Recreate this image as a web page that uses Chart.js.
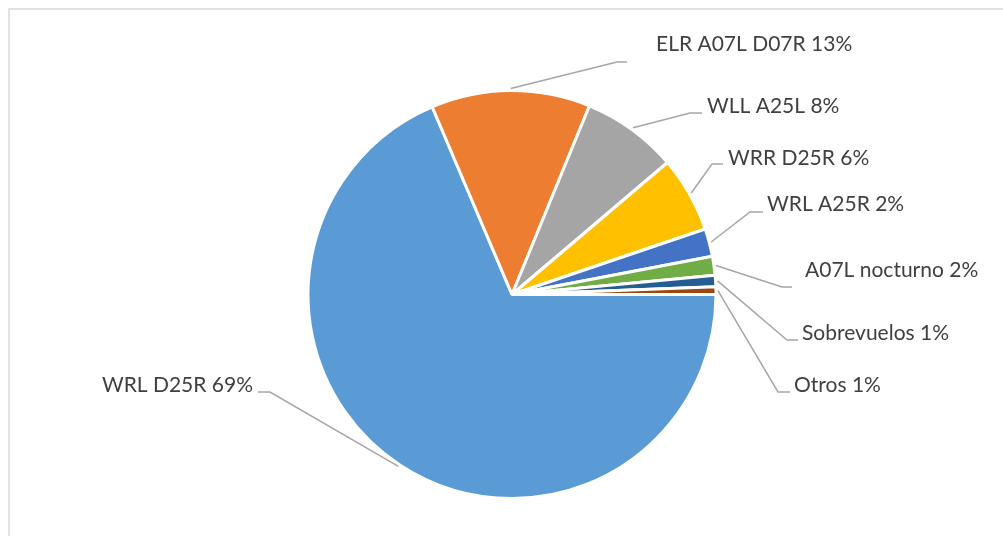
<!DOCTYPE html>
<html>
<head>
<meta charset="utf-8">
<script src="https://cdn.jsdelivr.net/npm/chart.js@4/dist/chart.umd.min.js"></script>
<style>
  html, body { margin: 0; padding: 0; background: #ffffff; }
  #wrap { width: 1003px; height: 536px; }
</style>
</head>
<body>
<div id="wrap"><canvas id="c" width="1003" height="536"></canvas></div>
<script>
// ---- data ----
const categories = ["WRL D25R", "ELR A07L D07R", "WLL A25L", "WRR D25R", "WRL A25R", "A07L nocturno", "Sobrevuelos", "Otros"];
const values = [68.6, 12.6, 7.6, 6.0, 2.2, 1.5, 0.9, 0.6];
const colors = ["#5B9BD5", "#ED7D31", "#A5A5A5", "#FFC000", "#4472C4", "#70AD47", "#255E91", "#9E480E"];

// ---- label layout (annotation placement only) ----
const labelLayout = [
  { tx: 253, ty: 392, align: "right", elbow: [270, 392], end: [258, 392] },
  { tx: 656, ty: 51,  align: "left",  elbow: [617, 62],  end: [627, 62] },
  { tx: 707, ty: 113, align: "left",  elbow: [690, 113], end: [702, 113] },
  { tx: 728, ty: 165, align: "left",  elbow: [712, 164], end: [723, 164] },
  { tx: 767, ty: 211, align: "left",  elbow: [750, 212], end: [763, 212] },
  { tx: 805, ty: 277, align: "left",  elbow: [782, 287], end: [792, 287] },
  { tx: 802, ty: 340, align: "left",  elbow: [787, 340], end: [798, 340] },
  { tx: 794, ty: 392, align: "left",  elbow: [778, 392], end: [790, 392] }
];

const total = values.reduce((a, b) => a + b, 0);

const frame = {
  id: "frame",
  beforeDraw(chart) {
    const ctx = chart.ctx;
    ctx.save();
    ctx.strokeStyle = "#d9d9d9";
    ctx.lineWidth = 1.5;
    ctx.strokeRect(9, 9, 1100, 700);
    ctx.restore();
  }
};

const leaders = {
  id: "leaders",
  afterDatasetsDraw(chart) {
    const ctx = chart.ctx;
    const meta = chart.getDatasetMeta(0);
    ctx.save();
    meta.data.forEach((arc, i) => {
      const p = arc.getProps(["x", "y", "startAngle", "endAngle", "outerRadius"], true);
      const mid = (p.startAngle + p.endAngle) / 2;
      const r = p.outerRadius + 2;
      const sx = p.x + Math.cos(mid) * r;
      const sy = p.y + Math.sin(mid) * r;
      const L = labelLayout[i];
      ctx.strokeStyle = "#a6a6a6";
      ctx.lineWidth = 1.5;
      ctx.beginPath();
      ctx.moveTo(sx, sy);
      ctx.lineTo(L.elbow[0], L.elbow[1]);
      ctx.lineTo(L.end[0], L.end[1]);
      ctx.stroke();
      const pct = Math.round(values[i] / total * 100 + 1e-9);
      ctx.fillStyle = "#404040";
      ctx.font = "21px Lato";
      ctx.textAlign = L.align;
      ctx.textBaseline = "alphabetic";
      ctx.fillText(categories[i] + " " + pct + "%", L.tx, L.ty);
    });
    ctx.restore();
  }
};

new Chart(document.getElementById("c"), {
  type: "pie",
  data: {
    labels: categories,
    datasets: [{
      data: values,
      backgroundColor: colors,
      borderColor: "#ffffff",
      borderWidth: 3
    }]
  },
  options: {
    responsive: false,
    animation: false,
    rotation: 90,
    layout: { padding: { left: 21, right: 0, top: 89, bottom: 36 } },
    plugins: {
      legend: { display: false },
      tooltip: { enabled: false }
    },
    events: []
  },
  plugins: [frame, leaders]
});
</script>
</body>
</html>
